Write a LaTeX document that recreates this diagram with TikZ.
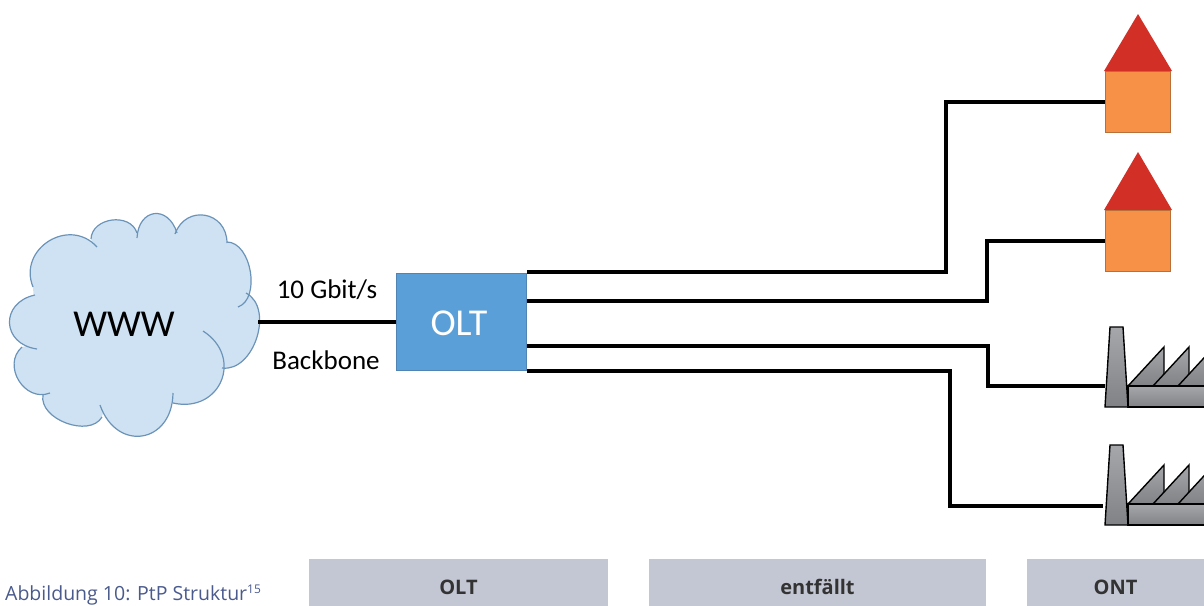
\documentclass[tikz,border=0pt]{standalone}
\usepackage{fontspec}
\setmainfont{Carlito}
\newfontfamily\capfont{Open Sans}
\usetikzlibrary{positioning, calc}

\definecolor{cloudfill}{HTML}{CFE2F3}
\definecolor{cloudline}{HTML}{6B93B8}
\definecolor{oltfill}{HTML}{5B9FD9}
\definecolor{oltline}{HTML}{4F84B5}
\definecolor{roofred}{HTML}{D22F27}
\definecolor{bodyorange}{HTML}{F79147}
\definecolor{bodyline}{HTML}{B97038}
\definecolor{barfill}{HTML}{C3C7D3}
\definecolor{captext}{HTML}{4A5A8C}
\definecolor{factlight}{HTML}{A5A7AB}
\definecolor{factdark}{HTML}{808286}

\begin{document}
\begin{tikzpicture}[x=1pt, y=-1pt]
    \tikzstyle{fibre} = [line width=4pt, black]
    \tikzstyle{olt} = [rectangle, draw=oltline, line width=1.2pt, fill=oltfill, text=white, minimum width=130pt, minimum height=97pt, font=\fontsize{38}{40}\selectfont]
    \tikzstyle{house} = [rectangle, draw=bodyline, line width=1.6pt, fill=bodyorange, minimum width=65pt, minimum height=61pt]
    \tikzstyle{label} = [font=\fontsize{27}{30}\selectfont]
    \tikzstyle{bar} = [rectangle, fill=barfill, minimum height=56pt, inner sep=0pt, font=\capfont\bfseries\fontsize{20}{22}\selectfont, text=black!80]
    \tikzstyle{fact} = [draw=black, line width=1.4pt, line join=miter, top color=factlight, bottom color=factdark]

    \useasboundingbox (0,0) rectangle (1204,605);

    % cloud
    \node (www) at (124,325) {};
    \def\cloudpuffs{{33,287}/{97,247}/1.4, {91,239}/{137,233}/1.2, {137,238}/{177,233}/1.9, {175,234}/{227,243}/1.55, {227,242}/{238,307}/0.95, {246,293}/{222,368}/1.05, {203,331}/{173,403}/1.6, {173,393}/{100,405}/1.75, {102,417}/{43,395}/1.0, {50,393}/{22,347}/1.3, {37,349}/{35,295}/1.7}
    \fill[cloudfill] (33,287) -- (97,247) -- (137,233) -- (177,233) -- (227,243) -- (238,307) -- (222,368) -- (173,403) -- (100,405) -- (43,395) -- (22,347) -- (37,349) -- cycle;
    \foreach \a/\b/\n in \cloudpuffs {
        \fill[cloudfill] (\a) to[bend left=80, looseness=\n] (\b) -- (www.center) -- cycle;
    }
    \foreach \a/\b/\n in \cloudpuffs {
        \draw[cloudline, line width=1.2pt] (\a) to[bend left=80, looseness=\n] (\b);
    }
    \node[font=\fontsize{38}{42}\selectfont] (wwwtext) at (124,324) {WWW};

    % olt and labels
    \node (olt) [olt] at (461.5,322) {};
    \node (olttext) [text=white, font=\fontsize{38}{40}\selectfont] at (459,323) {OLT};
    \coordinate (cloudout) at (258,322);
    \draw [fibre] (cloudout) -- (olt.west);
    \node (rate) [label] at (327,290) {10 Gbit/s};
    \node (backbone) [label] at (326,360) {Backbone};

    % houses
    \fill[roofred] (1104,71) -- (1138,14) -- (1172,71) -- cycle;
    \node (house1) [house] at (1138,102) {};
    \fill[roofred] (1104,210) -- (1138,152) -- (1172,210) -- cycle;
    \node (house2) [house] at (1138,241) {};

    % factories
    \begin{scope}
        \clip (1090,300) rectangle (1204,530);
        \foreach \d in {0,118} {
            \begin{scope}[yshift=-\d pt]
                \draw[fact] (1128,386) -- (1164,347) -- (1164,386) -- cycle;
                \draw[fact] (1153,386) -- (1189,347) -- (1189,386) -- cycle;
                \draw[fact] (1178,386) -- (1214,347) -- (1214,386) -- cycle;
                \draw[fact] (1128,386) rectangle (1220,407);
                \draw[fact] (1105,407) -- (1110,327) -- (1123,327) -- (1128,407) -- cycle;
            \end{scope}
        }
    \end{scope}
    \coordinate (fact1) at (1105,386);
    \coordinate (fact2) at (1103,506);

    % fibres
    \coordinate (out1) at (527,272);
    \coordinate (out2) at (527,301);
    \coordinate (out3) at (527,346);
    \coordinate (out4) at (527,371);
    \coordinate (bend1) at (946,186);
    \coordinate (bend2) at (987,270);
    \coordinate (bend3) at (988,366);
    \coordinate (bend4) at (950,438);
    \draw [fibre] (out1) -| (bend1) |- (house1.west);
    \draw [fibre] (out2) -| (bend2) |- (house2.west);
    \draw [fibre] (out3) -| (bend3) |- (fact1);
    \draw [fibre] (out4) -| (bend4) |- (fact2);

    % bars and caption
    \node (barolt) [bar, minimum width=299pt] at (458.5,587) {OLT};
    \node (barnone) [bar, minimum width=337pt] at (817.5,587) {entfällt};
    \node (baront) [bar, minimum width=177pt] at (1115.5,587) {ONT};
    \node (caption) [anchor=base west, inner sep=0pt, text=captext, font=\capfont\fontsize{19.5}{22}\selectfont] at (5,600) {Abbildung 10: PtP Struktur\raisebox{6.5pt}{\fontsize{12}{12}\selectfont 15}};
\end{tikzpicture}
\end{document}
